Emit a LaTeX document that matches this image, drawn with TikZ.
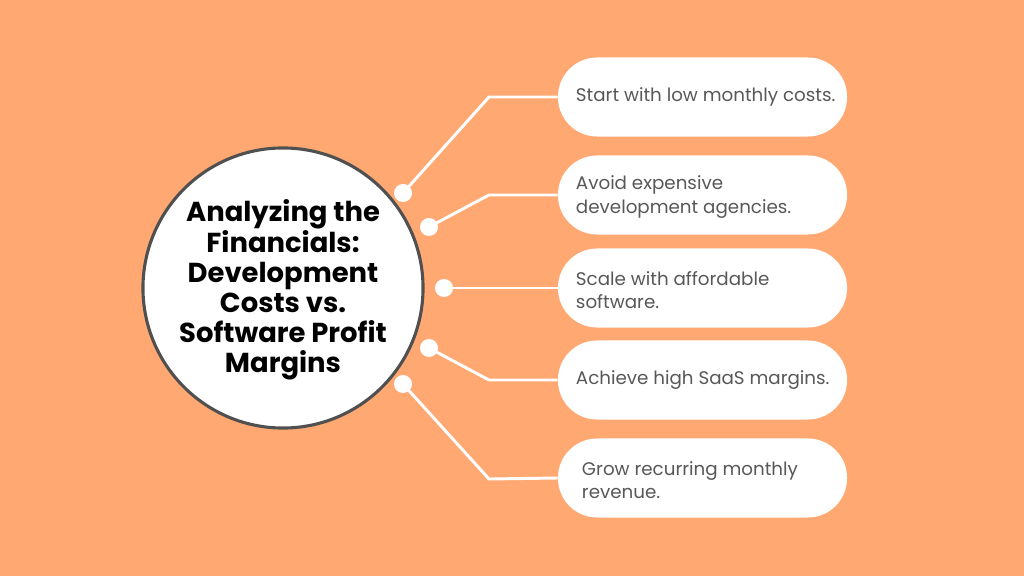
\documentclass[tikz,border=0pt]{standalone}
\usepackage{fontspec}
\setmainfont{Poppins}
\definecolor{bg}{RGB}{255,168,114}
\definecolor{txt}{RGB}{88,88,88}
\definecolor{rim}{RGB}{80,80,80}
\begin{document}
\begin{tikzpicture}[x=0.025cm,y=-0.025cm,
  pill/.style={draw=none,fill=white,minimum width=7.225cm,minimum height=1.975cm,rounded corners=0.98cm,inner sep=0pt},
  ptext/.style={anchor=west,inner sep=0pt,align=left,text=txt,font=\fontsize{13pt}{16.4pt}\selectfont},
  dot/.style={circle,fill=white,draw=none,minimum size=0.45cm,inner sep=0pt},
  conn/.style={white,line width=2.1pt}]
\fill[bg] (0,0) rectangle (1024,576);
\useasboundingbox (0,0) rectangle (1024,576);
\node[circle,fill=white,draw=rim,line width=2.2pt,minimum size=7cm,inner sep=0pt] (hub) at (283,288) {};
\node[align=center,font=\fontsize{19.5pt}{21.4pt}\selectfont\bfseries] (title) at (283,290)
 {Analyzing the\\Financials:\\Development\\Costs vs.\\Software Profit\\Margins};
\foreach \i/\y in {1/97,2/195,3/288,4/380,5/478}{
  \node[pill] (p\i) at (702.5,\y) {};
}
\node[ptext] (t1) at ([xshift=0.45cm]p1.west) {Start with low monthly costs.};
\node[ptext] (t2) at ([xshift=0.45cm,yshift=-0.05cm]p2.west) {Avoid expensive\\development agencies.};
\node[ptext] (t3) at ([xshift=0.45cm,yshift=-0.05cm]p3.west) {Scale with affordable\\software.};
\node[ptext] (t4) at ([xshift=0.45cm]p4.west) {Achieve high SaaS margins.};
\node[ptext] (t5) at ([xshift=0.6cm,yshift=-0.05cm]p5.west) {Grow recurring monthly\\revenue.};
\node[dot] (d1) at (403,193) {};
\node[dot] (d2) at (429,227) {};
\node[dot] (d3) at (444,288) {};
\node[dot] (d4) at (429,348) {};
\node[dot] (d5) at (403,384) {};
\coordinate (b1) at (489,97);
\coordinate (b2) at (489,195);
\coordinate (b4) at (489,380);
\coordinate (b5) at (489,479);
\draw[conn] (d1.center) -- (b1) -- (p1.west);
\draw[conn] (d2.center) -- (b2) -- (p2.west);
\draw[conn] (d3.center) -- (p3.west);
\draw[conn] (d4.center) -- (b4) -- (p4.west);
\draw[conn] (d5.center) -- (b5) -- (p5.west);
\end{tikzpicture}
\end{document}
